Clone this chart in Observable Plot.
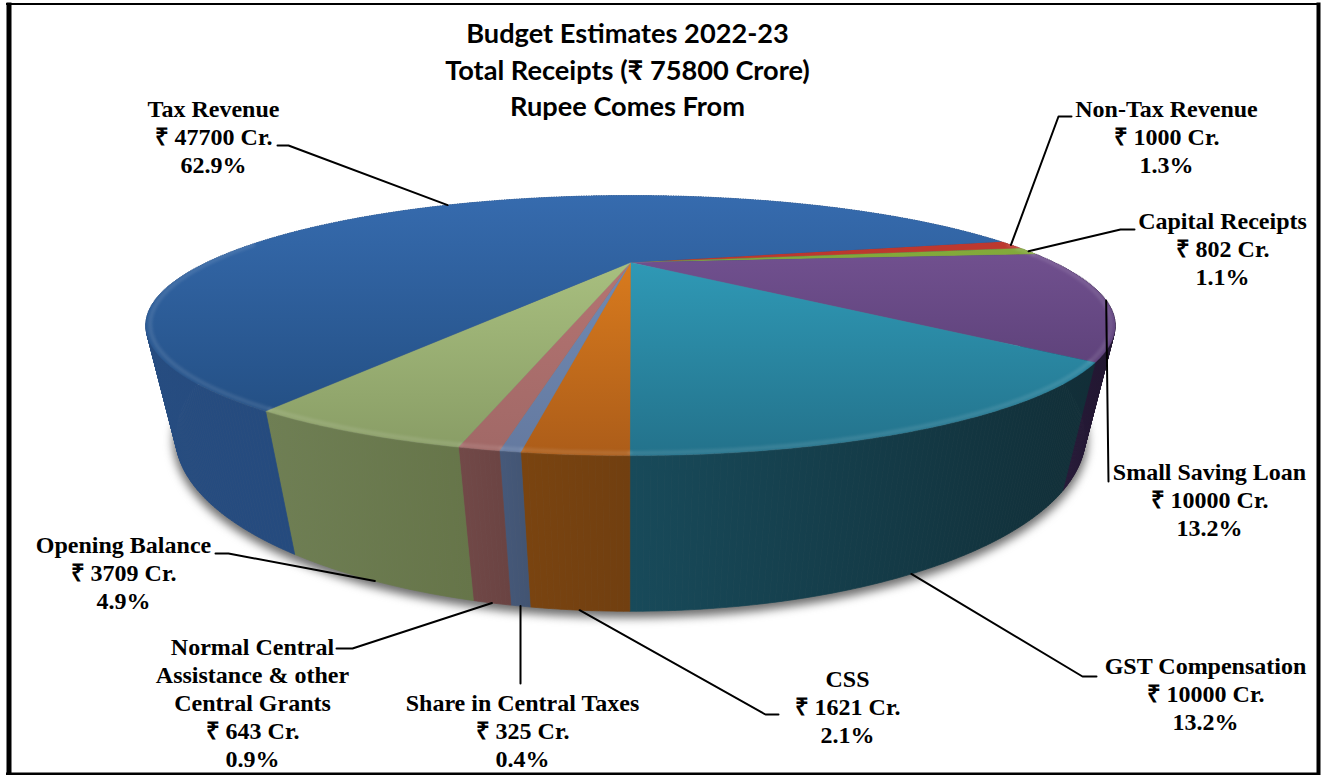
<!DOCTYPE html>
<html>
<head>
<meta charset="utf-8">
<script src="https://cdn.jsdelivr.net/npm/d3@7"></script>
<script src="https://cdn.jsdelivr.net/npm/@observablehq/plot@0.6"></script>
<style>
html,body{margin:0;padding:0;background:#fff}
svg{display:block}
</style>
</head>
<body>
<div id="chart"></div>
<script>
// ---------- data (clockwise from the first slice) ----------
const names = ["Non-Tax Revenue","Capital Receipts","Small Saving Loan","GST Compensation","CSS","Share in Central Taxes","Normal Central\nAssistance & other\nCentral Grants","Opening Balance","Tax Revenue"];
const crores = [1000,802,10000,10000,1621,325,643,3709,47700];
const percents = ["1.3%","1.1%","13.2%","13.2%","2.1%","0.4%","0.9%","4.9%","62.9%"];
const titleLines = ["Budget Estimates 2022-23","Total Receipts (₹ 75800 Crore)","Rupee Comes From"];

// ---------- styles ----------
const topLight = ["#c23a30","#86ad3c","#7a5799","#33a6c4","#e8851f","#7490bb","#bb7876","#b3cb88","#366bae"];
const topDark  = ["#a83028","#769a34","#4f376a","#23718a","#ab5c19","#64799f","#a06866","#879b64","#204a7c"];
const wallLeft  = ["#7a2520","#5c7526","#2a1c40","#184a5a","#7a4410","#46597a","#724948","#6f7f54","#264c80"];
const wallRight = ["#7a2520","#5c7526","#21162f","#112e37","#713f10","#425472","#6a4342","#667549","#224574"];

// ---------- perspective of the disc ----------
const startAngle = 76.5, cx = 630, apexY = 262, A = 424, B = 99.5, k = 0.4846, depth = 0.0505, vanishX = 629, vanishY = 2200;
function project(deg, level, r = 1) {
  const t = deg * Math.PI / 180, u = r * Math.sin(t), v = r * Math.cos(t), w = 1 + k * v;
  const X = cx + A * u / w, Y = apexY - B * v / w;
  if (!level) return [X, Y];
  const h = depth * level;
  return [(X * w + h * vanishX) / (w + h), (Y * w + h * vanishY) / (w + h)];
}
const total = d3.sum(crores);
const ends = d3.cumsum(crores).map(c => startAngle + c / total * 360);
const slices = crores.map((c, i) => ({i, a0: i ? ends[i - 1] : startAngle, a1: ends[i]}));
const angles = s => {
  const n = Math.max(2, Math.ceil(s.a1 - s.a0) * 2);
  return d3.range(n + 1).map(j => s.a0 + (s.a1 - s.a0) * j / n);
};
const arc = (s, level, r) => angles(s).map(a => project(a, level, r));
const frontArc = (s, r) => angles(s).filter(a => Math.cos(a * Math.PI / 180) < 0.2).map(a => project(a, 0, r));
const wallQuads = s => {
  const as = angles(s), out = [];
  for (let q = 0; q < as.length - 1; q++) {
    for (const p of [project(as[q], 0), project(as[q], 1), project(as[q + 1], 1), project(as[q + 1], 0)]) out.push({x: p[0], y: p[1], q});
  }
  return out;
};
const topPoly = s => [[cx, apexY], ...arc(s, 0)];
const outline = d3.range(0, 361, 2).map(a => project(a, 1));
const px = {x: d => d[0], y: d => d[1]};

// ---------- annotation layout ----------
const labelAt = [[1166,136],[1222,248],[1209,499],[1205,693],[847,706],[522,730],[252,702],[123,572],[213,136]];
const leaderFrom = [[[1071,116],[1058,116]],[[1134,229],[1120,229]],[[1108,481]],[[1096,676],[1082,676]],[[778,714],[765,714]],[[520,683]],[[336,648],[352,648]],[[215,553],[228,553]],[[277,145],[288,145]]];
const leaderLevel = [0,0,0,1,1,1,1,1,0];
const leaders = slices.map(s => [...leaderFrom[s.i], project((s.a0 + s.a1) / 2, leaderLevel[s.i])]);
const labels = names.map((n, i) => ({x: labelAt[i][0], y: labelAt[i][1], text: `${n}\n₹ ${crores[i]} Cr.\n${percents[i]}`}));
const titles = titleLines.map((t, i) => ({t, i}));

function defs() {
  const d = d3.create("svg:defs");
  slices.forEach(s => {
    const g = d.append("linearGradient").attr("id", `top${s.i}`).attr("gradientUnits", "userSpaceOnUse")
      .attr("x1", 0).attr("x2", 0).attr("y1", 195).attr("y2", 460);
    g.append("stop").attr("offset", 0).attr("stop-color", topLight[s.i]);
    g.append("stop").attr("offset", 1).attr("stop-color", topDark[s.i]);
    const xs = wallQuads(s).map(p => p.x);
    const w = d.append("linearGradient").attr("id", `wall${s.i}`).attr("gradientUnits", "userSpaceOnUse")
      .attr("x1", d3.min(xs)).attr("x2", d3.max(xs)).attr("y1", 0).attr("y2", 0);
    w.append("stop").attr("offset", 0).attr("stop-color", wallLeft[s.i]);
    w.append("stop").attr("offset", 1).attr("stop-color", wallRight[s.i]);
  });
  return d.node();
}

const plot = Plot.plot({
  width: 1322, height: 775,
  marginTop: 0, marginRight: 0, marginBottom: 0, marginLeft: 0,
  x: {domain: [0, 1322], range: [0, 1322], axis: null},
  y: {domain: [0, 775], range: [0, 775], axis: null},
  marks: [
    defs,
    Plot.line(outline, {...px, fill: "#6e6e6e", stroke: "#6e6e6e", strokeWidth: 5, dy: 4, imageFilter: "blur(5px)"}),
    ...slices.map(s => Plot.line(wallQuads(s), {x: "x", y: "y", z: "q", fill: `url(#wall${s.i})`, stroke: `url(#wall${s.i})`, strokeWidth: 0.7})),
    ...slices.map(s => Plot.line(topPoly(s), {...px, fill: `url(#top${s.i})`, stroke: `url(#top${s.i})`, strokeWidth: 0.4})),
    ...slices.map(s => Plot.line(frontArc(s, 0.993), {...px, stroke: "#fff", strokeOpacity: 0.11, strokeWidth: 4, imageFilter: "blur(1.5px)"})),
    ...leaders.map(l => Plot.line(l, {...px, stroke: "#000", strokeWidth: 2})),
    Plot.text(labels, {x: "x", y: "y", text: "text", fontFamily: "'Liberation Serif', serif", fontWeight: 700, fontSize: 24, lineHeight: 1.167, fill: "#000"}),
    Plot.text(titles, {x: () => 627, y: d => 34 + d.i * 36.5, text: "t", fontFamily: "Lato, sans-serif", fontWeight: 700, fontSize: 27.2, fill: "#000"}),
    Plot.ruleX([8.5], {y1: 2.5, y2: 775, stroke: "#000", strokeWidth: 5}),
    Plot.ruleX([1318], {y1: 2.5, y2: 775, stroke: "#000", strokeWidth: 4}),
    Plot.ruleY([3.5], {x1: 6, x2: 1320, stroke: "#000", strokeWidth: 2}),
    Plot.ruleY([773.5], {x1: 6, x2: 1320, stroke: "#000", strokeWidth: 3})
  ]
});
document.getElementById("chart").append(plot);
</script>
</body>
</html>
